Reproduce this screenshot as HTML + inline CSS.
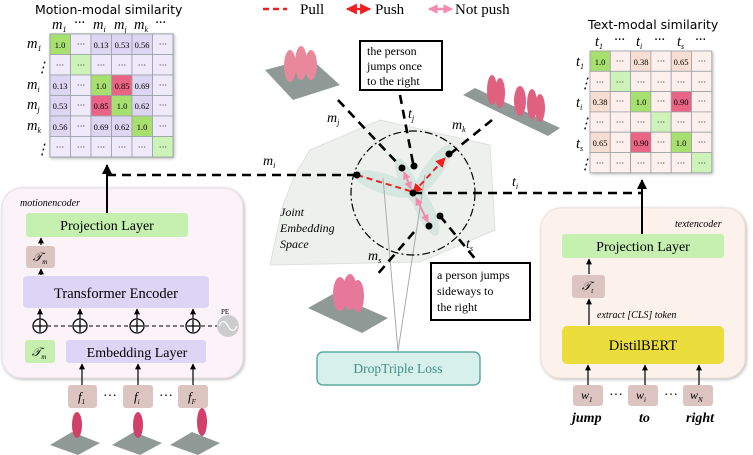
<!DOCTYPE html>
<html><head><meta charset="utf-8"><style>
body{margin:0;background:#fff;width:753px;height:455px;overflow:hidden}
svg{display:block}
.s{font-family:"DejaVu Sans","Liberation Sans",sans-serif}
.t{font-family:"Liberation Serif",serif}
.i{font-family:"Liberation Serif",serif;font-style:italic}
.c{font-family:"Liberation Serif",serif;font-size:8.5px}
</style></head><body>
<svg width="753" height="455" viewBox="0 0 753 455" xmlns="http://www.w3.org/2000/svg">
<defs>
<marker id="ah" viewBox="0 0 10 10" refX="9" refY="5" markerWidth="5" markerHeight="5" orient="auto"><path d="M0,0L10,5L0,10z" fill="#000"/></marker>
<marker id="rh" viewBox="0 0 10 10" refX="9" refY="5" markerWidth="5" markerHeight="5" orient="auto-start-reverse"><path d="M0,0L10,5L0,10z" fill="#f02020"/></marker>
<marker id="ph" viewBox="0 0 10 10" refX="9" refY="5" markerWidth="4" markerHeight="4" orient="auto-start-reverse"><path d="M0,0L10,5L0,10z" fill="#f58ab0"/></marker>
<filter id="sh" x="-5%" y="-5%" width="110%" height="110%"><feDropShadow dx="1" dy="1" stdDeviation="1.5" flood-opacity="0.3"/></filter>
</defs>

<!-- Left matrix -->
<text x="35" y="14" class="s" font-size="12.5">Motion-modal similarity</text>
<g class="i" font-size="14.5">
<text x="52" y="29">m<tspan font-size="8" dy="3">1</tspan></text>
<text x="74" y="27" class="t">···</text>
<text x="93" y="29">m<tspan font-size="8" dy="3">i</tspan></text>
<text x="114" y="29">m<tspan font-size="8" dy="3">j</tspan></text>
<text x="134" y="29">m<tspan font-size="8" dy="3">k</tspan></text>
<text x="155" y="27" class="t">···</text>
<text x="27" y="48">m<tspan font-size="8" dy="3">1</tspan></text>
<text x="35" y="72" class="t">⋮</text>
<text x="27" y="89">m<tspan font-size="8" dy="3">i</tspan></text>
<text x="27" y="109">m<tspan font-size="8" dy="3">j</tspan></text>
<text x="27" y="130">m<tspan font-size="8" dy="3">k</tspan></text>
<text x="35" y="154" class="t">⋮</text>
</g>
<g stroke="#8a8f95" stroke-width="1" filter="url(#sh)">
<rect x="50" y="34" width="123" height="123" fill="#eeeafa"/>
</g>
<g stroke="#9aa0a6" stroke-width="0.8">
<rect x="50" y="34" width="20.5" height="20.5" fill="#a8e070"/><rect x="70.5" y="34" width="20.5" height="20.5" fill="#eeeafa"/><rect x="91" y="34" width="20.5" height="20.5" fill="#dcd6f3"/><rect x="111.5" y="34" width="20.5" height="20.5" fill="#dcd6f3"/><rect x="132" y="34" width="20.5" height="20.5" fill="#dcd6f3"/><rect x="152.5" y="34" width="20.5" height="20.5" fill="#eeeafa"/>
<rect x="50" y="54.5" width="20.5" height="20.5" fill="#eeeafa"/><rect x="70.5" y="54.5" width="20.5" height="20.5" fill="#cdf3b8"/><rect x="91" y="54.5" width="20.5" height="20.5" fill="#eeeafa"/><rect x="111.5" y="54.5" width="20.5" height="20.5" fill="#eeeafa"/><rect x="132" y="54.5" width="20.5" height="20.5" fill="#eeeafa"/><rect x="152.5" y="54.5" width="20.5" height="20.5" fill="#eeeafa"/>
<rect x="50" y="75" width="20.5" height="20.5" fill="#dcd6f3"/><rect x="70.5" y="75" width="20.5" height="20.5" fill="#eeeafa"/><rect x="91" y="75" width="20.5" height="20.5" fill="#a8e070"/><rect x="111.5" y="75" width="20.5" height="20.5" fill="#ea6585"/><rect x="132" y="75" width="20.5" height="20.5" fill="#dcd6f3"/><rect x="152.5" y="75" width="20.5" height="20.5" fill="#eeeafa"/>
<rect x="50" y="95.5" width="20.5" height="20.5" fill="#dcd6f3"/><rect x="70.5" y="95.5" width="20.5" height="20.5" fill="#eeeafa"/><rect x="91" y="95.5" width="20.5" height="20.5" fill="#ea6585"/><rect x="111.5" y="95.5" width="20.5" height="20.5" fill="#a8e070"/><rect x="132" y="95.5" width="20.5" height="20.5" fill="#dcd6f3"/><rect x="152.5" y="95.5" width="20.5" height="20.5" fill="#eeeafa"/>
<rect x="50" y="116" width="20.5" height="20.5" fill="#dcd6f3"/><rect x="70.5" y="116" width="20.5" height="20.5" fill="#eeeafa"/><rect x="91" y="116" width="20.5" height="20.5" fill="#dcd6f3"/><rect x="111.5" y="116" width="20.5" height="20.5" fill="#dcd6f3"/><rect x="132" y="116" width="20.5" height="20.5" fill="#a8e070"/><rect x="152.5" y="116" width="20.5" height="20.5" fill="#eeeafa"/>
<rect x="50" y="136.5" width="20.5" height="20.5" fill="#eeeafa"/><rect x="70.5" y="136.5" width="20.5" height="20.5" fill="#eeeafa"/><rect x="91" y="136.5" width="20.5" height="20.5" fill="#eeeafa"/><rect x="111.5" y="136.5" width="20.5" height="20.5" fill="#eeeafa"/><rect x="132" y="136.5" width="20.5" height="20.5" fill="#eeeafa"/><rect x="152.5" y="136.5" width="20.5" height="20.5" fill="#cdf3b8"/>
</g>
<g class="c" text-anchor="middle">
<text x="60" y="48">1.0</text><text x="81" y="47">···</text><text x="101" y="48">0.13</text><text x="122" y="48">0.53</text><text x="142" y="48">0.56</text><text x="163" y="47">···</text>
<text x="60" y="68">···</text><text x="81" y="68">···</text><text x="101" y="68">···</text><text x="122" y="68">···</text><text x="142" y="68">···</text><text x="163" y="68">···</text>
<text x="60" y="89">0.13</text><text x="81" y="88">···</text><text x="101" y="89">1.0</text><text x="122" y="89">0.85</text><text x="142" y="89">0.69</text><text x="163" y="88">···</text>
<text x="60" y="109">0.53</text><text x="81" y="108">···</text><text x="101" y="109">0.85</text><text x="122" y="109">1.0</text><text x="142" y="109">0.62</text><text x="163" y="108">···</text>
<text x="60" y="130">0.56</text><text x="81" y="129">···</text><text x="101" y="130">0.69</text><text x="122" y="130">0.62</text><text x="142" y="130">1.0</text><text x="163" y="129">···</text>
<text x="60" y="150">···</text><text x="81" y="150">···</text><text x="101" y="150">···</text><text x="122" y="150">···</text><text x="142" y="150">···</text><text x="163" y="150">···</text>
</g>

<!-- Right matrix -->
<text x="588" y="29" class="s" font-size="12.5">Text-modal similarity</text>
<g class="i" font-size="14.5">
<text x="595" y="46">t<tspan font-size="8" dy="3">1</tspan></text>
<text x="614" y="44" class="t">···</text>
<text x="636" y="46">t<tspan font-size="8" dy="3">i</tspan></text>
<text x="654" y="44" class="t">···</text>
<text x="677" y="46">t<tspan font-size="8" dy="3">s</tspan></text>
<text x="695" y="44" class="t">···</text>
<text x="576" y="66">t<tspan font-size="8" dy="3">1</tspan></text>
<text x="578" y="88" class="t">⋮</text>
<text x="576" y="107">t<tspan font-size="8" dy="3">i</tspan></text>
<text x="578" y="128" class="t">⋮</text>
<text x="576" y="148">t<tspan font-size="8" dy="3">s</tspan></text>
<text x="578" y="169" class="t">⋮</text>
</g>
<rect x="590" y="51" width="122" height="122" fill="#fdf0ec" filter="url(#sh)"/>
<g stroke="#9aa0a6" stroke-width="0.8">
<rect x="590" y="51" width="20.3" height="20.3" fill="#a8e070"/><rect x="610.3" y="51" width="20.3" height="20.3" fill="#fdf0ec"/><rect x="630.6" y="51" width="20.3" height="20.3" fill="#f8ddd2"/><rect x="650.9" y="51" width="20.3" height="20.3" fill="#fdf0ec"/><rect x="671.2" y="51" width="20.3" height="20.3" fill="#f8ddd2"/><rect x="691.5" y="51" width="20.3" height="20.3" fill="#fdf0ec"/>
<rect x="590" y="71.3" width="20.3" height="20.3" fill="#fdf0ec"/><rect x="610.3" y="71.3" width="20.3" height="20.3" fill="#cdf3b8"/><rect x="630.6" y="71.3" width="20.3" height="20.3" fill="#fdf0ec"/><rect x="650.9" y="71.3" width="20.3" height="20.3" fill="#fdf0ec"/><rect x="671.2" y="71.3" width="20.3" height="20.3" fill="#fdf0ec"/><rect x="691.5" y="71.3" width="20.3" height="20.3" fill="#fdf0ec"/>
<rect x="590" y="91.6" width="20.3" height="20.3" fill="#f8ddd2"/><rect x="610.3" y="91.6" width="20.3" height="20.3" fill="#fdf0ec"/><rect x="630.6" y="91.6" width="20.3" height="20.3" fill="#a8e070"/><rect x="650.9" y="91.6" width="20.3" height="20.3" fill="#fdf0ec"/><rect x="671.2" y="91.6" width="20.3" height="20.3" fill="#ea6585"/><rect x="691.5" y="91.6" width="20.3" height="20.3" fill="#fdf0ec"/>
<rect x="590" y="111.9" width="20.3" height="20.3" fill="#fdf0ec"/><rect x="610.3" y="111.9" width="20.3" height="20.3" fill="#fdf0ec"/><rect x="630.6" y="111.9" width="20.3" height="20.3" fill="#fdf0ec"/><rect x="650.9" y="111.9" width="20.3" height="20.3" fill="#cdf3b8"/><rect x="671.2" y="111.9" width="20.3" height="20.3" fill="#fdf0ec"/><rect x="691.5" y="111.9" width="20.3" height="20.3" fill="#fdf0ec"/>
<rect x="590" y="132.2" width="20.3" height="20.3" fill="#f8ddd2"/><rect x="610.3" y="132.2" width="20.3" height="20.3" fill="#fdf0ec"/><rect x="630.6" y="132.2" width="20.3" height="20.3" fill="#ea6585"/><rect x="650.9" y="132.2" width="20.3" height="20.3" fill="#fdf0ec"/><rect x="671.2" y="132.2" width="20.3" height="20.3" fill="#a8e070"/><rect x="691.5" y="132.2" width="20.3" height="20.3" fill="#fdf0ec"/>
<rect x="590" y="152.5" width="20.3" height="20.3" fill="#fdf0ec"/><rect x="610.3" y="152.5" width="20.3" height="20.3" fill="#fdf0ec"/><rect x="630.6" y="152.5" width="20.3" height="20.3" fill="#fdf0ec"/><rect x="650.9" y="152.5" width="20.3" height="20.3" fill="#fdf0ec"/><rect x="671.2" y="152.5" width="20.3" height="20.3" fill="#fdf0ec"/><rect x="691.5" y="152.5" width="20.3" height="20.3" fill="#cdf3b8"/>
</g>
<g class="c" text-anchor="middle">
<text x="600" y="65">1.0</text><text x="620" y="64">···</text><text x="641" y="65">0.38</text><text x="661" y="64">···</text><text x="681" y="65">0.65</text><text x="702" y="64">···</text>
<text x="600" y="85">···</text><text x="620" y="85">···</text><text x="641" y="85">···</text><text x="661" y="85">···</text><text x="681" y="85">···</text><text x="702" y="85">···</text>
<text x="600" y="105">0.38</text><text x="620" y="104">···</text><text x="641" y="105">1.0</text><text x="661" y="104">···</text><text x="681" y="105">0.90</text><text x="702" y="104">···</text>
<text x="600" y="125">···</text><text x="620" y="125">···</text><text x="641" y="125">···</text><text x="661" y="125">···</text><text x="681" y="125">···</text><text x="702" y="125">···</text>
<text x="600" y="146">0.65</text><text x="620" y="145">···</text><text x="641" y="146">0.90</text><text x="661" y="145">···</text><text x="681" y="146">1.0</text><text x="702" y="145">···</text>
<text x="600" y="166">···</text><text x="620" y="166">···</text><text x="641" y="166">···</text><text x="661" y="166">···</text><text x="681" y="166">···</text><text x="702" y="166">···</text>
</g>

<!-- Legend -->
<line x1="263" y1="9" x2="287" y2="9" stroke="#f02020" stroke-width="2.4" stroke-dasharray="6,4"/>
<text x="300" y="14" class="t" font-size="15">Pull</text>
<line x1="347" y1="9" x2="370" y2="9" stroke="#f02020" stroke-width="2.2" marker-end="url(#rh)" marker-start="url(#rh)"/>
<text x="375" y="14" class="t" font-size="15">Push</text>
<line x1="429" y1="9" x2="452" y2="9" stroke="#f58ab0" stroke-width="2.4" marker-end="url(#ph)" marker-start="url(#ph)"/>
<text x="455" y="14" class="t" font-size="15">Not push</text>

<!-- Joint embedding space -->
<polygon points="310,150 380,120 490,145 495,230 420,262 270,265 283,205 295,175" fill="#eef0ee" stroke="#dde0dd"/>
<text class="i" font-size="12" x="280" y="216">Joint</text>
<text class="i" font-size="12" x="280" y="232">Embedding</text>
<text class="i" font-size="12" x="280" y="248">Space</text>
<ellipse cx="385" cy="184" rx="32" ry="10" transform="rotate(18 385 184)" fill="#cfe3dc" opacity="0.8"/>
<ellipse cx="408" cy="182" rx="26" ry="8" transform="rotate(65 408 182)" fill="#cfe3dc" opacity="0.8"/>
<ellipse cx="433" cy="170" rx="30" ry="9" transform="rotate(-55 433 170)" fill="#cfe3dc" opacity="0.8"/>
<ellipse cx="425" cy="210" rx="28" ry="9" transform="rotate(65 425 210)" fill="#cfe3dc" opacity="0.8"/>
<line x1="383" y1="178" x2="398" y2="351" stroke="#aaa" stroke-width="1"/>
<line x1="425" y1="175" x2="398" y2="351" stroke="#aaa" stroke-width="1"/>
<circle cx="413" cy="193" r="62" fill="none" stroke="#000" stroke-width="1.2" stroke-dasharray="8,3,2,3"/>

<!-- dashed lines -->
<g stroke="#000" stroke-width="2.6" stroke-dasharray="9,6" fill="none">
<polyline points="107,175 357,175"/>
<line x1="338" y1="100" x2="402" y2="168"/>
<line x1="400" y1="95" x2="413" y2="163"/>
<line x1="492" y1="120" x2="450" y2="154"/>
<polyline points="413,193 642,193"/>
<line x1="440" y1="216" x2="481" y2="266"/>
<line x1="414" y1="232" x2="376" y2="276"/>
</g>
<g stroke="#f02020" stroke-width="2" fill="none">
<line x1="357" y1="175" x2="410" y2="191" stroke-dasharray="6,4"/>
<line x1="413" y1="193" x2="445" y2="158" stroke-dasharray="6,4" marker-end="url(#rh)" marker-start="url(#rh)"/>
</g>
<g stroke="#f58ab0" stroke-width="2" fill="none">
<line x1="404" y1="172" x2="411" y2="189" marker-end="url(#ph)" marker-start="url(#ph)"/>
<line x1="416" y1="198" x2="428" y2="222" marker-end="url(#ph)" marker-start="url(#ph)"/>
</g>
<g fill="#000">
<circle cx="357" cy="175" r="3.5"/><circle cx="402" cy="168" r="3.5"/><circle cx="414" cy="166" r="3.5"/><circle cx="449" cy="154" r="3.5"/><circle cx="413" cy="193" r="3.5"/><circle cx="429" cy="226" r="3.5"/><circle cx="440" cy="216" r="3.5"/>
</g>
<g class="i" font-size="14">
<text x="327" y="122">m<tspan font-size="8" dy="3">j</tspan></text>
<text x="408" y="118">t<tspan font-size="8" dy="3">j</tspan></text>
<text x="452" y="129">m<tspan font-size="8" dy="3">k</tspan></text>
<text x="263" y="165">m<tspan font-size="8" dy="3">i</tspan></text>
<text x="512" y="186">t<tspan font-size="8" dy="3">i</tspan></text>
<text x="466" y="248">t<tspan font-size="8" dy="3">s</tspan></text>
<text x="368" y="260">m<tspan font-size="8" dy="3">s</tspan></text>
</g>

<!-- text boxes -->
<rect x="360" y="41" width="82" height="49" fill="#fff" stroke="#000" stroke-width="2"/>
<g class="t" font-size="12"><text x="367" y="55">the person</text><text x="367" y="70">jumps once</text><text x="367" y="85">to the right</text></g>
<rect x="431" y="263" width="99" height="57" fill="#fff" stroke="#000" stroke-width="2"/>
<g class="t" font-size="12"><text x="437" y="279">a person jumps</text><text x="437" y="295">sideways to</text><text x="437" y="311">the right</text></g>

<!-- DropTriple -->
<rect x="317" y="352" width="163" height="33" rx="6" fill="#d8f0ec" stroke="#5aaca0" stroke-width="1.5"/>
<text x="398" y="373" text-anchor="middle" class="t" font-size="13.5" fill="#3f8f88">DropTriple Loss</text>

<!-- figures center -->
<polygon points="265,70 310,58 340,85 293,100" fill="#8f9a97"/>
<g fill="#e8889a"><ellipse cx="290" cy="66" rx="6" ry="16"/><ellipse cx="301" cy="63" rx="6" ry="17"/><ellipse cx="311" cy="65" rx="6" ry="15"/></g>
<polygon points="463,95 475,88 560,128 548,136" fill="#8f9a97"/>
<g fill="#e0607f"><ellipse cx="492" cy="90" rx="5" ry="15"/><ellipse cx="500" cy="93" rx="5" ry="15"/><ellipse cx="520" cy="101" rx="6" ry="15"/><ellipse cx="532" cy="104" rx="5" ry="15"/><ellipse cx="540" cy="108" rx="5" ry="14"/></g>
<polygon points="308,308 333,294 388,318 362,333" fill="#8f9a97"/>
<g fill="#e8789a"><ellipse cx="340" cy="294" rx="7" ry="17"/><ellipse cx="350" cy="292" rx="7" ry="18"/><ellipse cx="358" cy="296" rx="6" ry="16"/></g>

<!-- motion encoder -->
<rect x="2" y="188" width="241" height="190" rx="20" fill="#fbf3f8" filter="url(#sh)" stroke="#e8dfe6"/>
<text x="20" y="206" class="i" font-size="10">motionencoder</text>
<line x1="107" y1="213" x2="107" y2="165" stroke="#000" stroke-width="2" marker-end="url(#ah)"/>
<rect x="26" y="213" width="162" height="24" rx="3" fill="#c5f0b0"/>
<text x="107" y="230" text-anchor="middle" class="t" font-size="14">Projection Layer</text>
<rect x="26" y="246" width="29" height="22" rx="3" fill="#dcc4c0"/>
<text x="33" y="261" class="i" font-size="12">𝒯<tspan font-size="7" dy="3">m</tspan></text>
<rect x="23" y="276" width="186" height="32" rx="4" fill="#dcd5f5"/>
<text x="116" y="298" text-anchor="middle" class="t" font-size="14.5">Transformer Encoder</text>
<rect x="25" y="340" width="30" height="23" rx="3" fill="#c5f0b0"/>
<text x="32" y="356" class="i" font-size="12">𝒯<tspan font-size="7" dy="3">m</tspan></text>
<rect x="66" y="340" width="140" height="23" rx="3" fill="#dcd5f5"/>
<text x="137" y="357" text-anchor="middle" class="t" font-size="14">Embedding Layer</text>
<line x1="40" y1="326" x2="218" y2="326" stroke="#000" stroke-width="1" stroke-dasharray="4,3"/>
<circle cx="228" cy="326" r="11" fill="#ccc"/>
<path d="M219,326 q4,-9 9,0 t9,0" fill="none" stroke="#fff" stroke-width="1.2"/>
<text x="221" y="314" class="t" font-size="7">PE</text>
<g stroke="#000" stroke-width="1.3" fill="#fff">
<circle cx="40" cy="326" r="7"/><circle cx="80" cy="326" r="7"/><circle cx="137" cy="326" r="7"/><circle cx="193" cy="326" r="7"/>
</g>
<g stroke="#000" stroke-width="1.3">
<path d="M34,326h12M40,320v12M74,326h12M80,320v12M131,326h12M137,320v12M187,326h12M193,320v12"/>
</g>
<g stroke="#000" stroke-width="1.2" marker-end="url(#ah)">
<line x1="40" y1="319" x2="40" y2="309"/><line x1="80" y1="319" x2="80" y2="309"/><line x1="137" y1="319" x2="137" y2="309"/><line x1="193" y1="319" x2="193" y2="309"/>
<line x1="41" y1="275" x2="41" y2="269"/><line x1="41" y1="245" x2="41" y2="238"/>
<line x1="82" y1="385" x2="82" y2="364"/><line x1="138" y1="385" x2="138" y2="364"/><line x1="193" y1="385" x2="193" y2="364"/>
</g>
<g fill="#dcc4c0"><rect x="68" y="385" width="29" height="23" rx="3"/><rect x="123" y="385" width="30" height="23" rx="3"/><rect x="178" y="385" width="30" height="23" rx="3"/></g>
<g class="i" font-size="13"><text x="78" y="401">f<tspan font-size="7" dy="3">1</tspan></text><text x="134" y="401">f<tspan font-size="7" dy="3">i</tspan></text><text x="188" y="401">f<tspan font-size="7" dy="3">F</tspan></text></g>
<text x="103" y="400" class="t" font-size="14">···</text><text x="159" y="400" class="t" font-size="14">···</text>
<g fill="#8f9a97"><polygon points="50,445 72,432 100,443 78,455"/><polygon points="112,445 134,432 162,443 140,455"/><polygon points="170,445 192,432 220,443 198,455"/></g>
<g fill="#d0406a"><ellipse cx="77" cy="425" rx="5" ry="13"/><ellipse cx="138" cy="425" rx="5" ry="13"/><ellipse cx="202" cy="422" rx="5" ry="14"/></g>

<!-- text encoder -->
<rect x="541" y="208" width="204" height="170" rx="20" fill="#fdf1ec" filter="url(#sh)" stroke="#eee2dc"/>
<text x="675" y="227" class="i" font-size="10">textencoder</text>
<line x1="642" y1="234" x2="642" y2="180" stroke="#000" stroke-width="2" marker-end="url(#ah)"/>
<rect x="562" y="234" width="162" height="24" rx="3" fill="#c5f0b0"/>
<text x="643" y="251" text-anchor="middle" class="t" font-size="14">Projection Layer</text>
<rect x="572" y="275" width="33" height="23" rx="3" fill="#dcc4c0"/>
<text x="582" y="290" class="i" font-size="12">𝒯<tspan font-size="7" dy="3">t</tspan></text>
<text x="597" y="318" class="i" font-size="10">extract [CLS] token</text>
<rect x="562" y="326" width="162" height="38" rx="5" fill="#ebde3c"/>
<text x="643" y="350" text-anchor="middle" class="t" font-size="14.5">DistilBERT</text>
<g stroke="#000" stroke-width="1.2" marker-end="url(#ah)">
<line x1="589" y1="274" x2="589" y2="259"/><line x1="589" y1="325" x2="589" y2="299"/>
<line x1="588" y1="385" x2="588" y2="365"/><line x1="645" y1="385" x2="645" y2="365"/><line x1="699" y1="385" x2="699" y2="365"/>
</g>
<g fill="#dcc4c0"><rect x="573" y="385" width="30" height="21" rx="3"/><rect x="628" y="385" width="30" height="21" rx="3"/><rect x="683" y="385" width="30" height="21" rx="3"/></g>
<g class="i" font-size="12"><text x="581" y="399">w<tspan font-size="7" dy="3">1</tspan></text><text x="636" y="399">w<tspan font-size="7" dy="3">i</tspan></text><text x="690" y="399">w<tspan font-size="7" dy="3">N</tspan></text></g>
<text x="609" y="399" class="t" font-size="14">···</text><text x="664" y="399" class="t" font-size="14">···</text>
<g class="i" font-size="14" font-weight="bold"><text x="572" y="422">jump</text><text x="639" y="422">to</text><text x="686" y="422">right</text></g>
</svg>
</body></html>
